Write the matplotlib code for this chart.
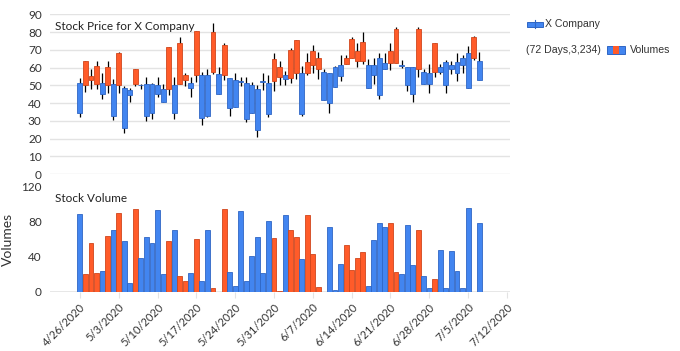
import matplotlib
matplotlib.use("Agg")
import matplotlib.pyplot as plt
import matplotlib.dates as mdates
from matplotlib.patches import Rectangle
import pandas as pd
import numpy as np

plt.rcParams['font.family'] = ['Lato', 'DejaVu Sans']

# daily prices, 4/26/2020 .. 7/7/2020
dates = pd.date_range("2020-04-26", periods=73)
opens = [51.5, 50, 53, 50.7, 51.5, 50, 51, 50, 48.8, 47.3, 51, 50.2, 51, 51, 50, 47.7,
         47.7, 50, 51, 53, 51.5, 56, 56, 56, 57.8, 56.5, 56, 53.9, 53, 52.2, 51.5, 50,
         47.7, 52.2, 51.5, 52.4, 54.5, 56, 53.9, 56.7, 56.7, 56.7, 61.2, 59, 57.8, 56.7,
         60.5, 61.6, 61.8, 65.7, 63.7, 63.7, 61.6, 61.6, 65.5, 62.7, 62.7, 62.7, 61.2,
         60.1, 60.5, 59, 57.8, 56.7, 57.3, 60.5, 62.9, 61.6, 62.9, 65.2, 68, 65.7, 63.8]
highs = [54, 64, 59, 64, 56.7, 64, 53.5, 69, 49.6, 48.4, 59, 50.5, 54.8, 51.5, 54.8, 50.7,
         71.7, 54.8, 77, 57, 54.5, 80.8, 57.8, 59, 84.9, 60.5, 74, 53.9, 57, 54.8, 54.8, 52,
         50.1, 57, 56, 68.4, 64, 58, 71, 75.7, 60.8, 68, 73, 69, 59.5, 56.7,
         61, 67, 67, 77, 74, 80, 64.6, 65.7, 68, 68, 74, 82.8, 64.5,
         60.1, 60.5, 82.8, 59, 62, 74, 61.8, 64.2, 64, 68, 66.9, 72, 78, 68.7]
lows = [32, 46, 48, 47.7, 42.6, 45.8, 30.4, 45.8, 22.9, 40.8, 49.5, 48, 30, 30.8, 43.6, 40.9,
        44.5, 30.8, 51, 49.6, 43.6, 52, 27.6, 32, 56.5, 45.4, 53, 32.7, 37.6, 49.6, 29.5, 34.2,
        20.7, 47.3, 32, 47, 50, 50, 51.6, 53.7, 32.7, 55.6, 56.7, 53.7, 42, 34.5,
        49.2, 52.4, 61.8, 65.7, 60.5, 62, 48.8, 50.5, 42.4, 59.2, 58.8, 62.7, 60,
        47, 40.8, 54.8, 51, 45.8, 54.8, 56.3, 45.8, 56.5, 52.4, 57, 48.8, 64.2, 53]
closes = [34.7, 63.8, 55, 60.7, 44.9, 60.1, 33, 68, 25.9, 44.3, 59, 50, 33, 34.2, 44.9, 40.9,
          71.7, 34.7, 74, 56, 48.8, 80.8, 31.4, 33, 79.8, 45.4, 73, 37, 37.6, 52, 30.8, 34.2,
          24.8, 52, 33.6, 65, 60.5, 53.7, 69.9, 75.7, 33.6, 62.9, 69.1, 65.7, 42, 39.8,
          49.2, 55.2, 65.7, 75.9, 69.5, 74.7, 48.8, 55.6, 44.3, 59.2, 69.5, 81.9, 61,
          50, 45.4, 81.9, 51, 50.5, 74, 57.7, 50, 59.3, 56.7, 61.4, 48.8, 77, 53]
volumes = [88.4, 20, 56, 21, 24, 64, 71, 90, 58, 10, 95, 38, 62, 56, 93, 20,
           58, 70, 18, 12, 21, 60, 12, 70, 4, 0, 94, 22, 7, 92, 12, 41,
           63, 21, 81, 61, 0.5, 88, 71, 63, 37, 88, 43, 5, 0, 74,
           1.5, 32, 53, 25, 38, 45, 7, 59, 79, 73.5, 79, 23, 20,
           76, 31, 71, 17.5, 4, 15, 48, 4, 47, 24, 4, 96, 0, 79]

tick_dates = pd.date_range("2020-04-26", "2020-07-12", freq="7D")
tick_labels = [f"{d.month}/{d.day}/{d.year}" for d in tick_dates]

blue, blue_edge = "#4285f0", "#2f66c4"
red, red_edge = "#ff5b29", "#d0461c"
grid_c = "#e3e3e3"
text_c = "#333333"

x = mdates.date2num(dates)
o = np.array(opens); c = np.array(closes)
up = c > o
face = [red if u else blue for u in up]
edge = [red_edge if u else blue_edge for u in up]

fig = plt.figure(figsize=(6.8, 3.51), dpi=100)
ax1 = fig.add_axes([0.0735, 0.504, 0.676, 0.455])
ax2 = fig.add_axes([0.0735, 0.169, 0.676, 0.299])

x0 = mdates.date2num(pd.Timestamp("2020-04-26"))
for ax in (ax1, ax2):
    ax.set_xlim(x0 - 5.4, x0 + 77.5)
    for s in ax.spines.values():
        s.set_visible(False)

# price candles
ax1.vlines(x, lows, highs, color="black", lw=0.9, zorder=2)
body_h = np.maximum(np.abs(c - o), 0.4)
ax1.bar(x, body_h, bottom=np.minimum(o, c), width=0.88, color=face,
        edgecolor=edge, linewidth=0.6, zorder=3)
ax1.set_ylim(0, 90)
ax1.set_yticks(range(0, 91, 10))
ax1.yaxis.grid(True, color=grid_c, lw=1)
ax1.set_axisbelow(True)
ax1.set_xticks([])
ax1.tick_params(axis="y", length=0, labelsize=8.5, labelcolor=text_c, pad=6)
ax1.text(0.01, 0.925, "Stock Price for X Company", transform=ax1.transAxes,
         fontsize=8.5, color="#222222", va="center")

# volume bars
ax2.bar(x, volumes, width=0.88, color=face, edgecolor=edge, linewidth=0.6, zorder=3)
ax2.set_ylim(0, 120)
ax2.set_yticks([0, 40, 80, 120])
ax2.axhline(0, color=grid_c, lw=1.2, zorder=1)
ax2.set_xticks(mdates.date2num(tick_dates))
ax2.set_xticklabels(tick_labels, rotation=45, ha="right", rotation_mode="anchor")
ax2.tick_params(axis="x", length=4, color=grid_c, labelsize=8, labelcolor=text_c, pad=3)
ax2.tick_params(axis="y", length=0, labelsize=8.5, labelcolor=text_c, pad=6)
ax2.set_ylabel("Volumes", fontsize=10, color=text_c, labelpad=5)
ax2.text(0.01, 0.885, "Stock Volume", transform=ax2.transAxes,
         fontsize=8.5, color="#222222", va="center")

# legend drawn by hand
leg_font = dict(fontsize=7.6, color=text_c, va="center", family=["Liberation Sans", "DejaVu Sans"])
fig.patches.append(Rectangle((527 / 680, 1 - 26.5 / 351), 16 / 680, 5 / 351,
                             transform=fig.transFigure, facecolor=blue,
                             edgecolor=blue_edge, lw=0.7))
fig.add_artist(plt.Line2D([535 / 680, 535 / 680], [1 - 28 / 351, 1 - 20 / 351],
                          transform=fig.transFigure, color=blue_edge, lw=0.8))
fig.text(545 / 680, 1 - 24 / 351, "X Company", **leg_font)
fig.text(526 / 680, 1 - 50 / 351, "(72 Days,3,234)", **leg_font)
fig.patches.append(Rectangle((607 / 680, 1 - 54 / 351), 18 / 680, 8 / 351,
                             transform=fig.transFigure, facecolor=blue,
                             edgecolor=blue_edge, lw=0.7))
fig.patches.append(Rectangle((613 / 680, 1 - 54 / 351), 6 / 680, 8 / 351,
                             transform=fig.transFigure, facecolor=red,
                             edgecolor="none"))
fig.text(630 / 680, 1 - 50 / 351, "Volumes", **leg_font)

fig.savefig("out.png", dpi=100)
